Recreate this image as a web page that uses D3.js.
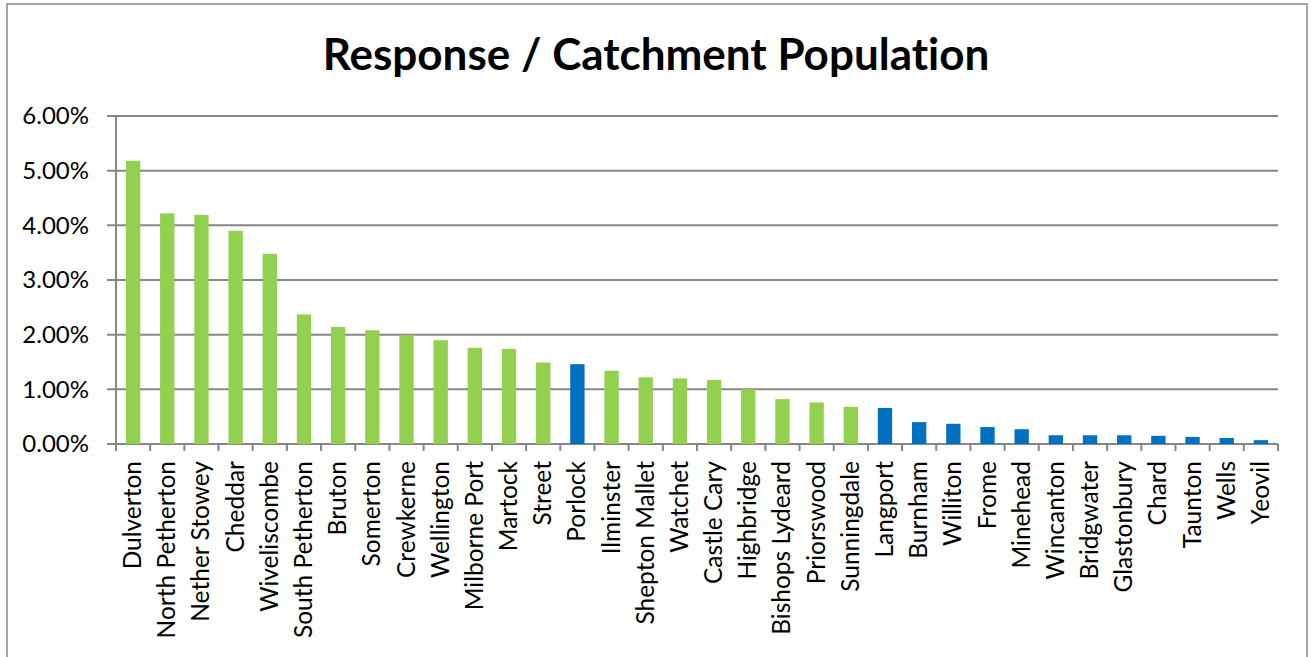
<!DOCTYPE html>
<html>
<head>
<meta charset="utf-8">
<script src="https://cdn.jsdelivr.net/npm/d3@7"></script>
<style>
  body { margin: 0; background: #fff; }
  text { font-family: Lato, "Open Sans", sans-serif; fill: #000; font-variant-ligatures: none; }
</style>
</head>
<body>
<svg id="chart" width="1311" height="657"></svg>
<script>
// towns, in the order shown
var towns = ["Dulverton", "North Petherton", "Nether Stowey", "Cheddar", "Wiveliscombe",
  "South Petherton", "Bruton", "Somerton", "Crewkerne", "Wellington", "Milborne Port",
  "Martock", "Street", "Porlock", "Ilminster", "Shepton Mallet", "Watchet", "Castle Cary",
  "Highbridge", "Bishops Lydeard", "Priorswood", "Sunningdale", "Langport", "Burnham",
  "Williton", "Frome", "Minehead", "Wincanton", "Bridgwater", "Glastonbury", "Chard",
  "Taunton", "Wells", "Yeovil"];

// response as share of catchment population
var response = [0.0518, 0.0422, 0.0419, 0.0390, 0.0348,
  0.0237, 0.0214, 0.0208, 0.0199, 0.0190, 0.0176,
  0.0174, 0.0149, 0.0146, 0.0134, 0.0122, 0.0120, 0.0117,
  0.0100, 0.0082, 0.0076, 0.0068, 0.0066, 0.0040,
  0.0037, 0.0031, 0.0027, 0.0016, 0.0016, 0.0016, 0.0015,
  0.0013, 0.0011, 0.0007];

// which towns are highlighted blue
var blueTowns = ["Porlock", "Langport", "Burnham", "Williton", "Frome", "Minehead",
  "Wincanton", "Bridgwater", "Glastonbury", "Chard", "Taunton", "Wells", "Yeovil"];

var yTicks = [0, 0.01, 0.02, 0.03, 0.04, 0.05, 0.06];

var svg = d3.select("#chart");
var plotL = 116, plotR = 1278, plotT = 116, plotB = 444;

// outer chart border
svg.append("rect")
  .attr("x", 7).attr("y", 4)
  .attr("width", 1300).attr("height", 700)
  .attr("fill", "none")
  .attr("stroke", "#868686")
  .attr("stroke-width", 1.5);

svg.append("text")
  .attr("x", 656).attr("y", 70)
  .attr("text-anchor", "middle")
  .style("font-size", "44px")
  .style("font-weight", "bold")
  .text("Response / Catchment Population");

var x = d3.scaleBand().domain(towns).range([plotL, plotR]).paddingInner(0.58).paddingOuter(0.29);
var y = d3.scaleLinear().domain([0, 0.06]).range([plotB, plotT]);

// gridlines
svg.append("g")
  .selectAll("line")
  .data(yTicks)
  .enter()
  .append("line")
  .attr("x1", plotL - 9).attr("x2", plotR)
  .attr("y1", function(d) { return y(d); })
  .attr("y2", function(d) { return y(d); })
  .attr("stroke", "#868686")
  .attr("stroke-width", 2);

// y axis labels
var yAxis = d3.axisLeft(y).tickValues(yTicks).tickSize(0).tickPadding(27)
  .tickFormat(d3.format(".2%"));
var gy = svg.append("g").attr("transform", "translate(" + plotL + ",0)").call(yAxis);
gy.select(".domain").remove();
gy.selectAll("text").style("font-size", "24px").style("font-family", "Lato, sans-serif").attr("fill", "#000");

// bars
svg.append("g")
  .selectAll("rect")
  .data(towns)
  .enter()
  .append("rect")
  .attr("x", function(d) { return x(d); })
  .attr("width", x.bandwidth())
  .attr("y", function(d, i) { return y(response[i]); })
  .attr("height", function(d, i) { return plotB - y(response[i]); })
  .attr("fill", function(d) { return blueTowns.indexOf(d) >= 0 ? "#0070C0" : "#92D050"; });

// y axis line
svg.append("line")
  .attr("x1", plotL).attr("x2", plotL)
  .attr("y1", plotT).attr("y2", plotB + 6)
  .attr("stroke", "#868686").attr("stroke-width", 2);

// category ticks at band edges
var edges = d3.range(towns.length + 1).map(function(i) { return plotL + i * (plotR - plotL) / towns.length; });
svg.append("g")
  .selectAll("line")
  .data(edges)
  .enter()
  .append("line")
  .attr("x1", function(d) { return d; })
  .attr("x2", function(d) { return d; })
  .attr("y1", plotB).attr("y2", plotB + 7)
  .attr("stroke", "#868686").attr("stroke-width", 2);

// rotated category labels
svg.append("g")
  .selectAll("text")
  .data(towns)
  .enter()
  .append("text")
  .attr("transform", function(d) {
    return "translate(" + (x(d) + x.bandwidth() / 2 + 8) + "," + (plotB + 17) + ") rotate(-90)";
  })
  .attr("text-anchor", "end")
  .style("font-size", "24.5px")
  .text(function(d) { return d; });
</script>
</body>
</html>
